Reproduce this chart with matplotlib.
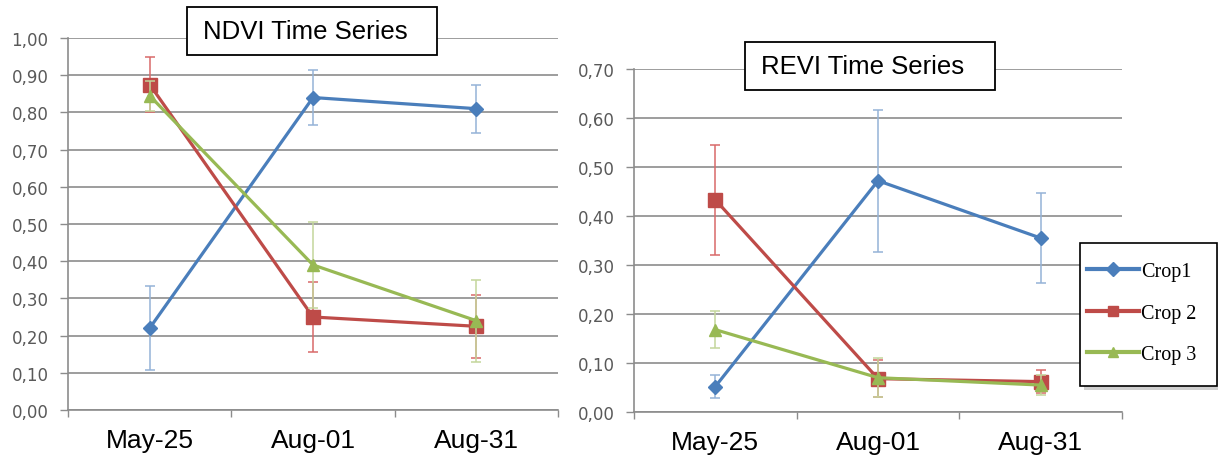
import matplotlib
matplotlib.use("Agg")
import matplotlib.pyplot as plt
from matplotlib.patches import Rectangle

# Sampling dates and crop series
dates = ["May-25", "Aug-01", "Aug-31"]
crops = ["Crop 1", "Crop 2", "Crop 3"]

ndvi_mean = [
    [0.22, 0.84, 0.81],
    [0.875, 0.25, 0.225],
    [0.845, 0.39, 0.24],
]
ndvi_err = [
    [0.113, 0.074, 0.065],
    [0.073, 0.095, 0.085],
    [0.04, 0.115, 0.11],
]

revi_mean = [
    [0.052, 0.472, 0.355],
    [0.433, 0.068, 0.062],
    [0.168, 0.070, 0.055],
]
revi_err = [
    [0.023, 0.145, 0.092],
    [0.112, 0.038, 0.023],
    [0.038, 0.040, 0.020],
]

ndvi_ticks = [0.0, 0.1, 0.2, 0.3, 0.4, 0.5, 0.6, 0.7, 0.8, 0.9, 1.0]
revi_ticks = [0.0, 0.1, 0.2, 0.3, 0.4, 0.5, 0.6, 0.7]

LINE_COLORS = ["#4A7EBB", "#BE4B48", "#98B954"]
ERR_COLORS = ["#95B3D7", "#D9696A", "#C3D69B"]
MARKERS = ["D", "s", "^"]
MSIZES = [7, 9.5, 9]

W, H = 1218, 464
fig = plt.figure(figsize=(W / 100, H / 100), dpi=100)


def fig_box(x0, y0, x1, y1):
    """Pixel box (top-left origin) -> figure fraction rect."""
    return [x0 / W, 1 - y1 / H, (x1 - x0) / W, (y1 - y0) / H]


def draw_panel(ax, means, errs, ticks, ymax):
    xs = [0.5, 1.5, 2.5]
    handles = []
    for i in range(len(crops)):
        ax.errorbar(xs, means[i], yerr=errs[i], fmt="none", ecolor=ERR_COLORS[i],
                    elinewidth=1.1, capsize=3.5, capthick=1.1, zorder=3 + i)
        h, = ax.plot(xs, means[i], color=LINE_COLORS[i], lw=2.3, marker=MARKERS[i],
                     ms=MSIZES[i], mec=LINE_COLORS[i], label=crops[i], zorder=4 + i)
        handles.append(h)

    ax.set_xlim(0, 3)
    ax.set_ylim(0, ymax)
    ax.set_yticks(ticks)
    ax.set_yticklabels([f"{t:.2f}".replace(".", ",") for t in ticks],
                       fontsize=12, color="#595959", family="DejaVu Sans")
    # category boundaries carry the tick marks, labels sit in between
    ax.set_xticks([0, 1, 2, 3])
    ax.set_xticklabels([])
    ax.set_xticks(xs, minor=True)
    ax.set_xticklabels(dates, minor=True, fontsize=19, family="Liberation Sans")
    ax.tick_params(axis="x", which="minor", length=0, pad=13)
    ax.tick_params(axis="x", which="major", length=5, color="#8C8C8C", width=1)
    ax.tick_params(axis="y", length=6, color="#8C8C8C", width=1, pad=8)

    ax.grid(axis="y", color="#8C8C8C", lw=1.2)
    ax.set_axisbelow(True)
    for side in ("top", "right"):
        ax.spines[side].set_visible(False)
    for side in ("left", "bottom"):
        ax.spines[side].set_color("#8C8C8C")
        ax.spines[side].set_linewidth(1.2)
    return handles


ax1 = fig.add_axes(fig_box(68, 39, 558, 411))
draw_panel(ax1, ndvi_mean, ndvi_err, ndvi_ticks, 1.0)

ax2 = fig.add_axes(fig_box(634, 70, 1122, 413))
handles = draw_panel(ax2, revi_mean, revi_err, revi_ticks, 0.7)

# Title boxes
for (x0, y0, x1, y1), tx, label in [((187, 8, 437, 56), 203, "NDVI Time Series"),
                                     ((745, 43, 995, 91), 761, "REVI Time Series")]:
    fig.patches.append(Rectangle((x0 / W, 1 - y1 / H), (x1 - x0) / W, (y1 - y0) / H,
                                 transform=fig.transFigure, facecolor="white",
                                 edgecolor="black", lw=1.3, zorder=10))
    fig.text(tx / W, 1 - (y0 + y1) / 2 / H, label, fontsize=18.5,
             family="Liberation Sans", ha="left", va="center", zorder=11)

# Legend box with a soft drop shadow, drawn by hand so the padding is uneven
lx0, ly0, lx1, ly1 = 1080, 244, 1217, 387
fig.patches.append(Rectangle(((lx0 + 4) / W, 1 - (ly1 + 4) / H), (lx1 - lx0) / W, (ly1 - ly0) / H,
                             transform=fig.transFigure, facecolor="#B0B0B0",
                             edgecolor="none", alpha=0.6, zorder=12))
fig.patches.append(Rectangle((lx0 / W, 1 - ly1 / H), (lx1 - lx0) / W, (ly1 - ly0) / H,
                             transform=fig.transFigure, facecolor="white",
                             edgecolor="black", lw=1.2, zorder=13))

leg = fig.legend(handles=handles, labels=["Crop1", "Crop 2", "Crop 3"],
                 loc="center left", bbox_to_anchor=((lx0 + 7) / W, 1 - 314 / H),
                 prop={"family": "Liberation Serif", "size": 14.5},
                 frameon=False, handlelength=2.6, handletextpad=0.1,
                 labelspacing=1.1, borderpad=0, borderaxespad=0)
leg.set_zorder(14)
for lh in leg.legend_handles:
    lh.set_markersize(7)
    lh.set_linewidth(3)

fig.savefig("out.png", dpi=100)
